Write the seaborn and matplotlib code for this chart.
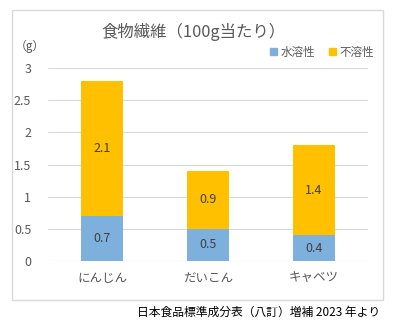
import matplotlib
matplotlib.use("Agg")
import matplotlib.pyplot as plt
import seaborn as sns
import pandas as pd
from matplotlib.patches import Rectangle, Patch

categories = ["にんじん", "だいこん", "キャベツ"]
soluble = [0.7, 0.5, 0.4]
insoluble = [2.1, 0.9, 1.4]
yticks = [0, 0.5, 1, 1.5, 2, 2.5, 3]
ytick_labels = ["0", "0.5", "1", "1.5", "2", "2.5", "3"]

sns.set_theme(style="white")
plt.rcParams['font.family'] = ['Noto Sans CJK JP', 'DejaVu Sans']

blue = "#7EB0DE"
orange = "#FFC000"
txt = "#595959"
grid = "#D9D9D9"

df = pd.DataFrame({"cat": categories, "sol": soluble, "ins": insoluble})
df["total"] = df["sol"] + df["ins"]

fig = plt.figure(figsize=(3.94, 3.30), dpi=100)
ax = fig.add_axes([48/394, 1-261/330, 320/394, 193/330])

sns.barplot(data=df, x="cat", y="total", color=orange, width=0.4, ax=ax,
            saturation=1, zorder=2, linewidth=0)
sns.barplot(data=df, x="cat", y="sol", color=blue, width=0.4, ax=ax,
            saturation=1, zorder=3, linewidth=0)

for i, (s, n) in enumerate(zip(soluble, insoluble)):
    ax.text(i, s/2, f"{s}", ha="center", va="center", fontsize=9, color="#404040", zorder=4)
    ax.text(i, s + n/2, f"{n}", ha="center", va="center", fontsize=9, color="#404040", zorder=4)

ax.set_ylim(0, 3)
ax.set_xlim(-0.51, 2.51)
ax.set_yticks(yticks)
ax.set_yticklabels(ytick_labels, fontsize=9, color=txt)
ax.tick_params(axis="x", labelsize=9, colors=txt, length=0, pad=8)
ax.tick_params(axis="y", length=0, pad=12)
ax.set_xlabel("")
ax.set_ylabel("")
ax.yaxis.grid(True, color=grid, linewidth=0.8, zorder=0)
ax.set_axisbelow(True)
for sp in ax.spines.values():
    sp.set_visible(False)

# chart border
fig.patches.append(Rectangle((12/394, 1-300/330), 371/394, 290/330,
                             transform=fig.transFigure, fill=False,
                             edgecolor=grid, linewidth=1))

fig.text(193/394, 1-32/330, "食物繊維（100g当たり）", ha="center", va="center",
         fontsize=11.8, color=txt)
fig.text(30/394, 1-46/330, "（g）", ha="center", va="center", fontsize=8.5, color=txt)

handles = [Patch(color=blue, label="水溶性"), Patch(color=orange, label="不溶性")]
leg = fig.legend(handles=handles, loc="center right", bbox_to_anchor=(374/394, 1-52/330),
                 ncol=2, frameon=False, fontsize=8.3, handlelength=0.6, handleheight=0.6,
                 handletextpad=0.3, columnspacing=1.2, borderaxespad=0, borderpad=0)
for t in leg.get_texts():
    t.set_color(txt)

fig.text(380/394, 1-312/330, "日本食品標準成分表（八訂）増補 2023 年より", ha="right",
         va="center", fontsize=8.5, color="#000000")

fig.savefig("out.png", dpi=100)
